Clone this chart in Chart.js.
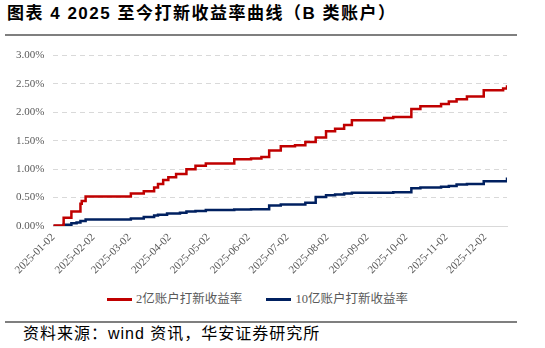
<!DOCTYPE html>
<html>
<head>
<meta charset="utf-8">
<script src="https://cdn.jsdelivr.net/npm/chart.js@4.4.1/dist/chart.umd.min.js"></script>
<style>
  body { margin: 0; width: 545px; height: 348px; background: #fff; position: relative; overflow: hidden;
         font-family: 'Liberation Sans', 'Noto Sans CJK SC', sans-serif; }
  .title { position: absolute; left: 7px; top: 4px; font-size: 17px; font-weight: bold; color: #000;
           line-height: 20px; white-space: nowrap; letter-spacing: 1.5px; }
  .rule { position: absolute; left: 5px; width: 512px; height: 2px; background: #7f7f7f; }
  .source { position: absolute; left: 23px; top: 324px; font-size: 16px; line-height: 19px; color: #000;
            white-space: nowrap; letter-spacing: 1px; }
  #wrap { position: absolute; left: 0; top: 40px; width: 525px; height: 245px; }
  #legend { position: absolute; left: 0; top: 291px; width: 515px; height: 16px; display: flex;
            justify-content: center; gap: 24px; font-family: 'Liberation Serif', 'Noto Sans CJK SC', serif;
            font-size: 12.5px; line-height: 16px; color: #595959; }
  #legend .item { display: flex; align-items: center; white-space: nowrap; }
  #legend .swatch { width: 25px; height: 3px; margin-right: 4px; }
</style>
</head>
<body>
<div class="title">图表 4 2025 至今打新收益率曲线（B 类账户）</div>
<div class="rule" style="top:34px"></div>
<div id="wrap"><canvas id="chart"></canvas></div>
<div id="legend"></div>
<div class="rule" style="top:321px"></div>
<div class="source">资料来源：wind 资讯，华安证券研究所</div>
<script>
// month labels on the date axis
const xTickLabels = ['2025-01-02', '2025-02-02', '2025-03-02', '2025-04-02', '2025-05-02', '2025-06-02',
                     '2025-07-02', '2025-08-02', '2025-09-02', '2025-10-02', '2025-11-02', '2025-12-02'];
const seriesNames = ['2亿账户打新收益率', '10亿账户打新收益率'];
const seriesColors = ['#C00000', '#002060'];

// cumulative yield (%) – dates where the curve steps up
const dates2 = ['2025-01-02', '2025-01-10', '2025-01-16', '2025-01-23', '2025-01-24', '2025-01-27',
                '2025-03-03', '2025-03-13', '2025-03-21', '2025-03-24', '2025-03-28', '2025-04-01',
                '2025-04-07', '2025-04-15', '2025-04-22', '2025-04-30', '2025-05-22', '2025-06-04',
                '2025-06-12', '2025-06-18', '2025-06-27', '2025-07-08', '2025-07-16', '2025-07-24',
                '2025-08-01', '2025-08-08', '2025-08-15', '2025-08-21', '2025-09-15', '2025-09-22',
                '2025-10-06', '2025-10-13', '2025-10-29', '2025-11-04', '2025-11-10', '2025-11-18',
                '2025-12-01', '2025-12-16', '2025-12-19'];
const yield2 = [0.01, 0.145, 0.255, 0.39, 0.44, 0.52,
                0.57, 0.61, 0.68, 0.74, 0.81, 0.86,
                0.915, 1.00, 1.06, 1.10, 1.175, 1.19,
                1.215, 1.33, 1.405, 1.42, 1.48, 1.56,
                1.67, 1.71, 1.78, 1.86, 1.90, 1.92,
                2.06, 2.11, 2.15, 2.19, 2.23, 2.28,
                2.39, 2.42, 2.48];

const dates10 = ['2025-01-02', '2025-01-10', '2025-01-16', '2025-01-20', '2025-01-23', '2025-01-27',
                 '2025-03-03', '2025-03-13', '2025-03-21', '2025-03-24', '2025-03-31', '2025-04-10',
                 '2025-04-15', '2025-04-22', '2025-04-30', '2025-05-22', '2025-06-04', '2025-06-18',
                 '2025-06-27', '2025-07-16', '2025-07-24', '2025-08-01', '2025-08-08', '2025-08-15',
                 '2025-08-21', '2025-09-22', '2025-10-06', '2025-10-13', '2025-10-29', '2025-11-04',
                 '2025-11-10', '2025-11-18', '2025-12-01', '2025-12-19'];
const yield10 = [0.00, 0.02, 0.05, 0.06, 0.09, 0.115,
                 0.13, 0.16, 0.185, 0.20, 0.22, 0.235,
                 0.255, 0.265, 0.28, 0.29, 0.295, 0.36,
                 0.38, 0.41, 0.51, 0.54, 0.555, 0.57,
                 0.585, 0.595, 0.665, 0.68, 0.69, 0.705,
                 0.73, 0.74, 0.79, 0.855];

const yMax = 3;
const yStep = 0.5;

// days counted from the first trading day
const origin = Date.UTC(2025, 0, 2);
function dayOf(s) {
  const [y, m, d] = s.split('-').map(Number);
  return (Date.UTC(y, m - 1, d) - origin) / 86400000;
}
function toPoints(dates, vals) {
  return dates.map((d, i) => ({ x: dayOf(d), y: vals[i] }));
}
const lastDay = dayOf(dates2[dates2.length - 1]);

Chart.defaults.font.family = "'Liberation Serif', 'Noto Sans CJK SC', serif";
Chart.defaults.color = '#595959';

let donationChart = document.getElementById('chart');
let myChart = new Chart(donationChart, {
  type: 'line',
  data: {
    datasets: [{
      label: seriesNames[0],
      data: toPoints(dates2, yield2),
      borderColor: seriesColors[0],
      backgroundColor: seriesColors[0],
      borderWidth: 2.5,
      pointRadius: 0,
      stepped: true
    }, {
      label: seriesNames[1],
      data: toPoints(dates10, yield10),
      borderColor: seriesColors[1],
      backgroundColor: seriesColors[1],
      borderWidth: 2.5,
      pointRadius: 0,
      stepped: true
    }]
  },
  options: {
    responsive: true,
    maintainAspectRatio: false,
    animation: false,
    layout: { padding: { left: 5, right: 18, top: 13, bottom: 4 } },
    plugins: {
      tooltip: { enabled: false },
      legend: { display: false }
    },
    scales: {
      x: {
        type: 'linear',
        min: 0,
        max: lastDay,
        afterBuildTicks: (axis) => { axis.ticks = xTickLabels.map(s => ({ value: dayOf(s) })); },
        afterFit: (axis) => { axis.height = 55; },
        grid: { display: false, drawTicks: false },
        border: { display: true, color: '#d9d9d9', width: 1 },
        ticks: {
          autoSkip: false,
          maxRotation: 45,
          minRotation: 45,
          padding: 5,
          font: { size: 11 },
          callback: (v, i) => xTickLabels[i]
        }
      },
      y: {
        min: 0,
        max: yMax,
        afterFit: (axis) => { axis.width = 48.3; },
        grid: { color: '#d9d9d9', drawTicks: false },
        border: { display: false, dash: [5, 4] },
        ticks: {
          stepSize: yStep,
          padding: 9,
          font: { size: 11 },
          callback: (v) => v.toFixed(2) + '%'
        }
      }
    }
  }
});

// legend below the chart, one entry per dataset
const legendBox = document.getElementById('legend');
myChart.data.datasets.forEach((ds) => {
  const item = document.createElement('div');
  item.className = 'item';
  const swatch = document.createElement('span');
  swatch.className = 'swatch';
  swatch.style.background = ds.borderColor;
  item.appendChild(swatch);
  item.appendChild(document.createTextNode(ds.label));
  legendBox.appendChild(item);
});
</script>
</body>
</html>
